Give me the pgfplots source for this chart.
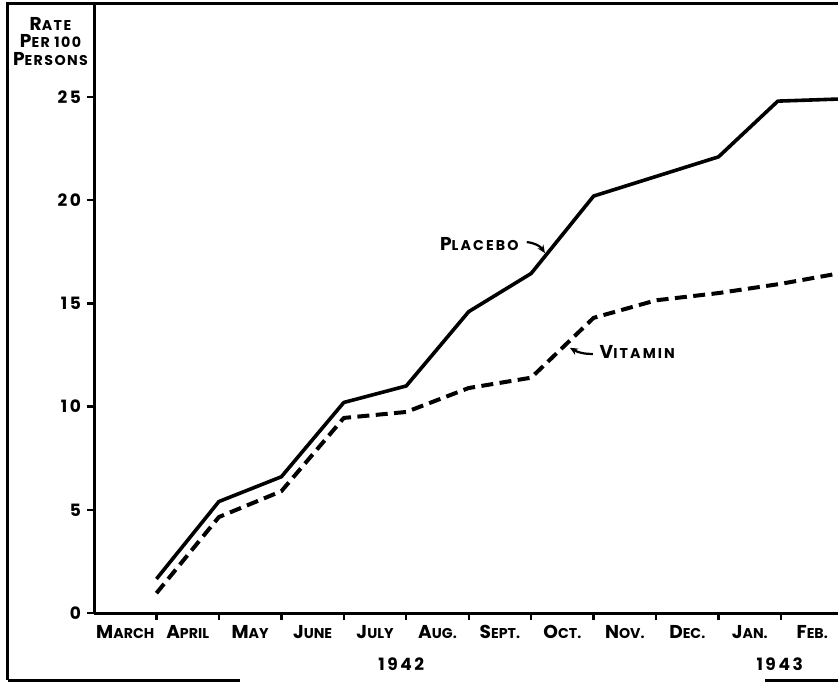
\documentclass[border=0pt]{standalone}
\usepackage{fontspec}
\setmainfont{Poppins}
\newfontfamily\wide{Poppins}[LetterSpace=15]
\newfontfamily\semiwide{Poppins}[LetterSpace=10]
\usepackage{pgfplots}
\pgfplotsset{compat=1.18}
\usetikzlibrary{arrows.meta}
\newcommand{\SC}[2]{{\bfseries\fontsize{9.3}{10}\selectfont #1}{\bfseries\fontsize{7.1}{10}\selectfont #2}}
\newcommand{\SCW}[2]{{\wide\bfseries\fontsize{9.3}{10}\selectfont #1}{\wide\bfseries\fontsize{7.1}{10}\selectfont #2}}
\newcommand{\SCS}[2]{{\semiwide\bfseries\fontsize{9.3}{10}\selectfont #1}{\semiwide\bfseries\fontsize{7.1}{10}\selectfont #2}}
\begin{document}
\begin{tikzpicture}
\useasboundingbox (-47pt,-35.5pt) rectangle (372pt,306.5pt);
\begin{axis}[
  at={(0pt,0pt)}, anchor=origin,
  x=31.225pt, y=10.32pt,
  xmin=0, xmax=11.92, ymin=0, ymax=29.5,
  axis lines*=left,
  axis line style={line width=1.5pt},
  clip=false,
  tick align=outside,
  major tick length=3.5pt,
  tick style={line width=1.2pt, black},
  ytick={0,5,10,15,20,25},
  yticklabel style={font=\wide\bfseries\fontsize{8.5}{9}\selectfont, xshift=0.5pt},
  /pgf/number format/assume math mode=true,
  xtick={1,2,3,4,5,6,7,8,9,10,11},
  xticklabels={},
  extra x ticks={0.5,1.5,2.5,3.5,4.5,5.5,6.5,7.5,8.5,9.5,10.5,11.5},
  extra x tick labels={\SC{M}{ARCH},\SC{A}{PRIL},\SC{M}{AY},\SC{J}{UNE},\SC{J}{ULY},\SC{A}{UG.},\SC{S}{EPT.},\SC{O}{CT.},\SC{N}{OV.},\SC{D}{EC.},\SC{J}{AN.},\SC{F}{EB.}},
  extra x tick style={major tick length=0pt, tick style={draw=none}, xticklabel style={anchor=base, yshift=-12.5pt}},
  every axis y label/.style={at={(axis description cs:0,1)}, anchor=north, xshift=-21.75pt, yshift=-3pt, align=center},
  ylabel={\SCS{R}{ATE}\\[-3.2pt]\SCS{P}{ER 100}\\[-3.2pt]\SCS{P}{ERSONS}},
]
\addplot[black, line width=1.8pt, line join=round] coordinates {
 (1,1.65) (2,5.4) (3,6.6) (4,10.2) (5,11.0) (6,14.6) (7,16.45) (8,20.2) (9,21.15) (10,22.1) (10.95,24.8) (11.92,24.9)
};
\addplot[black, line width=2pt, line join=round, dash pattern=on 6pt off 3.2pt] coordinates {
 (1,0.96) (2,4.65) (3,5.9) (4,9.45) (5,9.74) (6,10.9) (7,11.4) (8,14.3) (9,15.15) (10,15.5) (11,15.95) (11.92,16.45)
};
\node[anchor=center] at (axis cs:6.17,17.88) {\SCW{P}{LACEBO}};
\node[anchor=center] at (axis cs:8.70,12.65) {\SCW{V}{ITAMIN}};
\draw[line width=1.1pt, -{Stealth[length=4pt,width=3.5pt]}] (axis cs:6.93,17.97) to[bend left=25] (axis cs:7.22,17.44);
\draw[line width=1.1pt, -{Stealth[length=4pt,width=3.5pt]}] (axis cs:7.99,12.55) to[bend left=15] (axis cs:7.62,12.85);
\node[anchor=base, font=\wide\bfseries\fontsize{8.5}{9}\selectfont] at (axis cs:4.92,0) [yshift=-28.5pt] {1942};
\node[anchor=base, font=\wide\bfseries\fontsize{8.5}{9}\selectfont] at (axis cs:10.98,0) [yshift=-28.5pt] {1943};
\end{axis}
\draw[line width=1.5pt] (-43pt,-33.5pt) -- (-43pt,304.5pt) -- (380pt,304.5pt);
\draw[line width=1.5pt] (-43pt,-33.5pt) -- (73pt,-33.5pt);
\draw[line width=1.5pt] (335.5pt,-33.5pt) -- (380pt,-33.5pt);
\end{tikzpicture}
\end{document}
